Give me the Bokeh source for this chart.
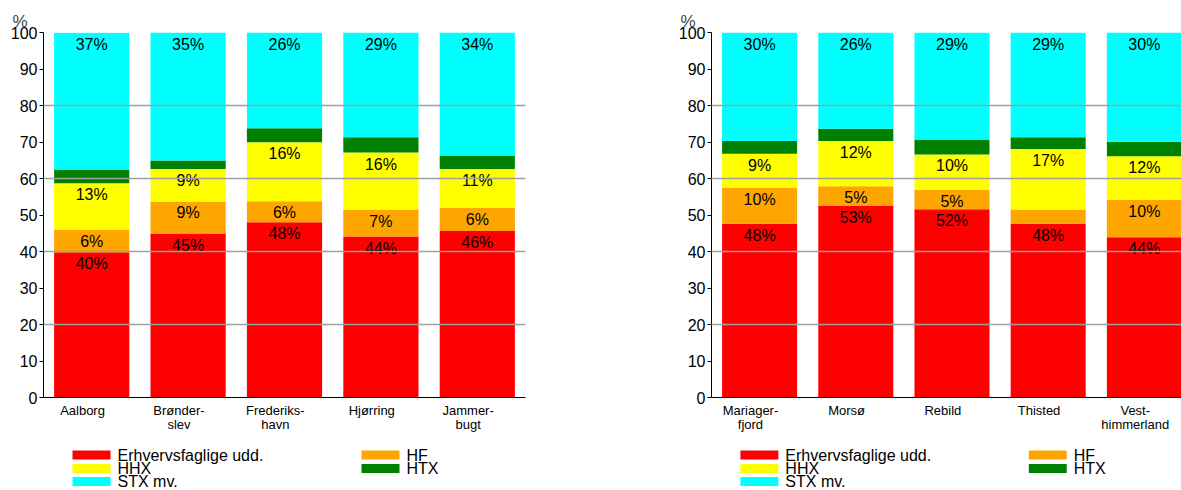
from bokeh.plotting import figure
from bokeh.models import Range1d, FixedTicker, ColumnDataSource
from bokeh.layouts import row, column
from bokeh.core.properties import value
from bokeh.embed import file_html
from bokeh.resources import INLINE

# ---- data ----
left_ticklabels = ["Aalborg", "Brønder-\nslev", "Frederiks-\nhavn", "Hjørring", "Jammer-\nbugt"]
left_erhv = [39.8, 44.9, 48.0, 44.1, 45.6]
left_hf = [6.2, 8.8, 5.8, 7.4, 6.3]
left_hhx = [12.7, 8.9, 16.1, 15.6, 10.7]
left_htx = [3.8, 2.3, 3.9, 4.2, 3.7]
left_stx = [37.4, 35.1, 26.2, 28.7, 33.7]

right_ticklabels = ["Mariager-\nfjord", "Morsø", "Rebild", "Thisted", "Vest-\nhimmerland"]
right_erhv = [47.6, 52.6, 51.6, 47.6, 43.9]
right_hf = [9.8, 5.3, 5.3, 3.9, 10.3]
right_hhx = [9.4, 12.4, 9.7, 16.6, 11.9]
right_htx = [3.5, 3.3, 4.1, 3.2, 4.0]
right_stx = [29.7, 26.4, 29.3, 28.7, 29.9]

series_names = ["Erhvervsfaglige udd.", "HF", "HHX", "HTX", "STX mv."]
series_colors = ["#FF0000", "#FFA500", "#FFFF00", "#008000", "#00FFFF"]
y_ticks = list(range(0, 101, 10))
grid_ticks = [20, 40, 60, 80, 100]

FONT_NAME = "Liberation Sans"
FONT = value(FONT_NAME)
BAR_W = 0.78


def make_chart(ticklabels, series, width, border_left, border_right, x_end):
    p = figure(width=width, height=437, x_range=Range1d(-0.5, x_end),
               y_range=Range1d(0, 100), output_backend="svg",
               toolbar_location=None, min_border_left=border_left,
               min_border_right=border_right, min_border_top=32,
               min_border_bottom=40)
    p.outline_line_color = None
    p.background_fill_color = "white"
    n = len(ticklabels)
    xs = list(range(n))
    bottoms = [0.0] * n
    lab_x, lab_y, lab_t = [], [], []
    for vals, color in zip(series, series_colors):
        tops = [b + v for b, v in zip(bottoms, vals)]
        src = ColumnDataSource(dict(x=xs, bottom=bottoms, top=tops))
        p.vbar(x="x", bottom="bottom", top="top", width=BAR_W, source=src,
               fill_color=color, line_color=None)
        for i, v in enumerate(vals):
            if v >= 4.5:
                lab_x.append(xs[i])
                lab_y.append(tops[i])
                lab_t.append(f"{int(v + 0.5)}%")
        bottoms = tops
    p.text(x=lab_x, y=lab_y, text=lab_t, text_align="center",
           text_baseline="top", y_offset=3, text_font=FONT,
           text_font_size="16px", text_color="black")

    p.xgrid.visible = False
    p.ygrid.ticker = FixedTicker(ticks=grid_ticks)
    p.ygrid.level = "overlay"
    p.ygrid.grid_line_color = "#a0a0a0"
    p.ygrid.grid_line_width = 1.5

    ya = p.yaxis[0]
    ya.ticker = FixedTicker(ticks=y_ticks)
    ya.major_label_text_font = FONT_NAME
    ya.major_label_text_font_size = "16px"
    ya.major_label_text_color = "black"
    ya.major_tick_out = 4
    ya.major_tick_in = 0
    ya.minor_tick_out = 0
    ya.minor_tick_in = 0
    ya.major_label_standoff = 2
    ya.axis_line_color = "black"
    ya.major_tick_line_color = "black"

    xa = p.xaxis[0]
    tick_pos = [i - 0.095 for i in xs]
    xa.ticker = FixedTicker(ticks=tick_pos)
    xa.major_label_overrides = {t: lab for t, lab in zip(tick_pos, ticklabels)}
    xa.major_label_text_font = FONT_NAME
    xa.major_label_text_font_size = "13px"
    xa.major_label_text_color = "black"
    xa.major_label_text_line_height = 0.95
    xa.major_tick_out = 0
    xa.major_tick_in = 0
    xa.minor_tick_out = 0
    xa.minor_tick_in = 0
    xa.major_label_standoff = 5
    xa.axis_line_color = "black"

    p.title.text = "%"
    p.title.align = "left"
    p.title.offset = -31
    p.title.standoff = 3
    p.title.text_font = FONT_NAME
    p.title.text_font_size = "17px"
    p.title.text_font_style = "normal"
    return p


def make_legend(width, border_left, border_right):
    # x in pixels from the figure's left edge; the frame is aligned with the chart above
    h = 53
    lp = figure(width=width, height=h,
                x_range=Range1d(border_left, width - border_right),
                y_range=Range1d(h, 0), output_backend="svg",
                toolbar_location=None, min_border=0,
                min_border_left=border_left, min_border_right=border_right,
                x_axis_location=None, y_axis_location=None)
    lp.outline_line_color = None
    lp.xgrid.visible = False
    lp.ygrid.visible = False
    col_sw = [border_left + 29, border_left + 318]
    sw_w = 38
    row_y = [17.5, 31, 44]
    L, R, T, B, tx, ty = [], [], [], [], [], []
    for k, name in enumerate(series_names):
        c, r = k % 2, k // 2
        L.append(col_sw[c]); R.append(col_sw[c] + sw_w)
        T.append(row_y[r] - 4.5); B.append(row_y[r] + 4.5)
        tx.append(col_sw[c] + sw_w + 7); ty.append(row_y[r])
    lp.quad(left=L, right=R, top=T, bottom=B, fill_color=series_colors,
            line_color=None)
    lp.text(x=tx, y=ty, text=series_names, text_align="left",
            text_baseline="middle", text_font=FONT, text_font_size="16px",
            text_color="black")
    return lp


left_series = [left_erhv, left_hf, left_hhx, left_htx, left_stx]
right_series = [right_erhv, right_hf, right_hhx, right_htx, right_stx]

W1, W2 = 675, 506
p1 = make_chart(left_ticklabels, left_series, W1, 43, 150, 4.5)
p2 = make_chart(right_ticklabels, right_series, W2, 35, 0, -0.5 + 471 / 96.4)
l1 = make_legend(W1, 43, 150)
l2 = make_legend(W2, 35, 0)

layout = row(column(p1, l1, spacing=0), column(p2, l2, spacing=0), spacing=0)
open("out.html", "w").write(file_html(layout, INLINE))
